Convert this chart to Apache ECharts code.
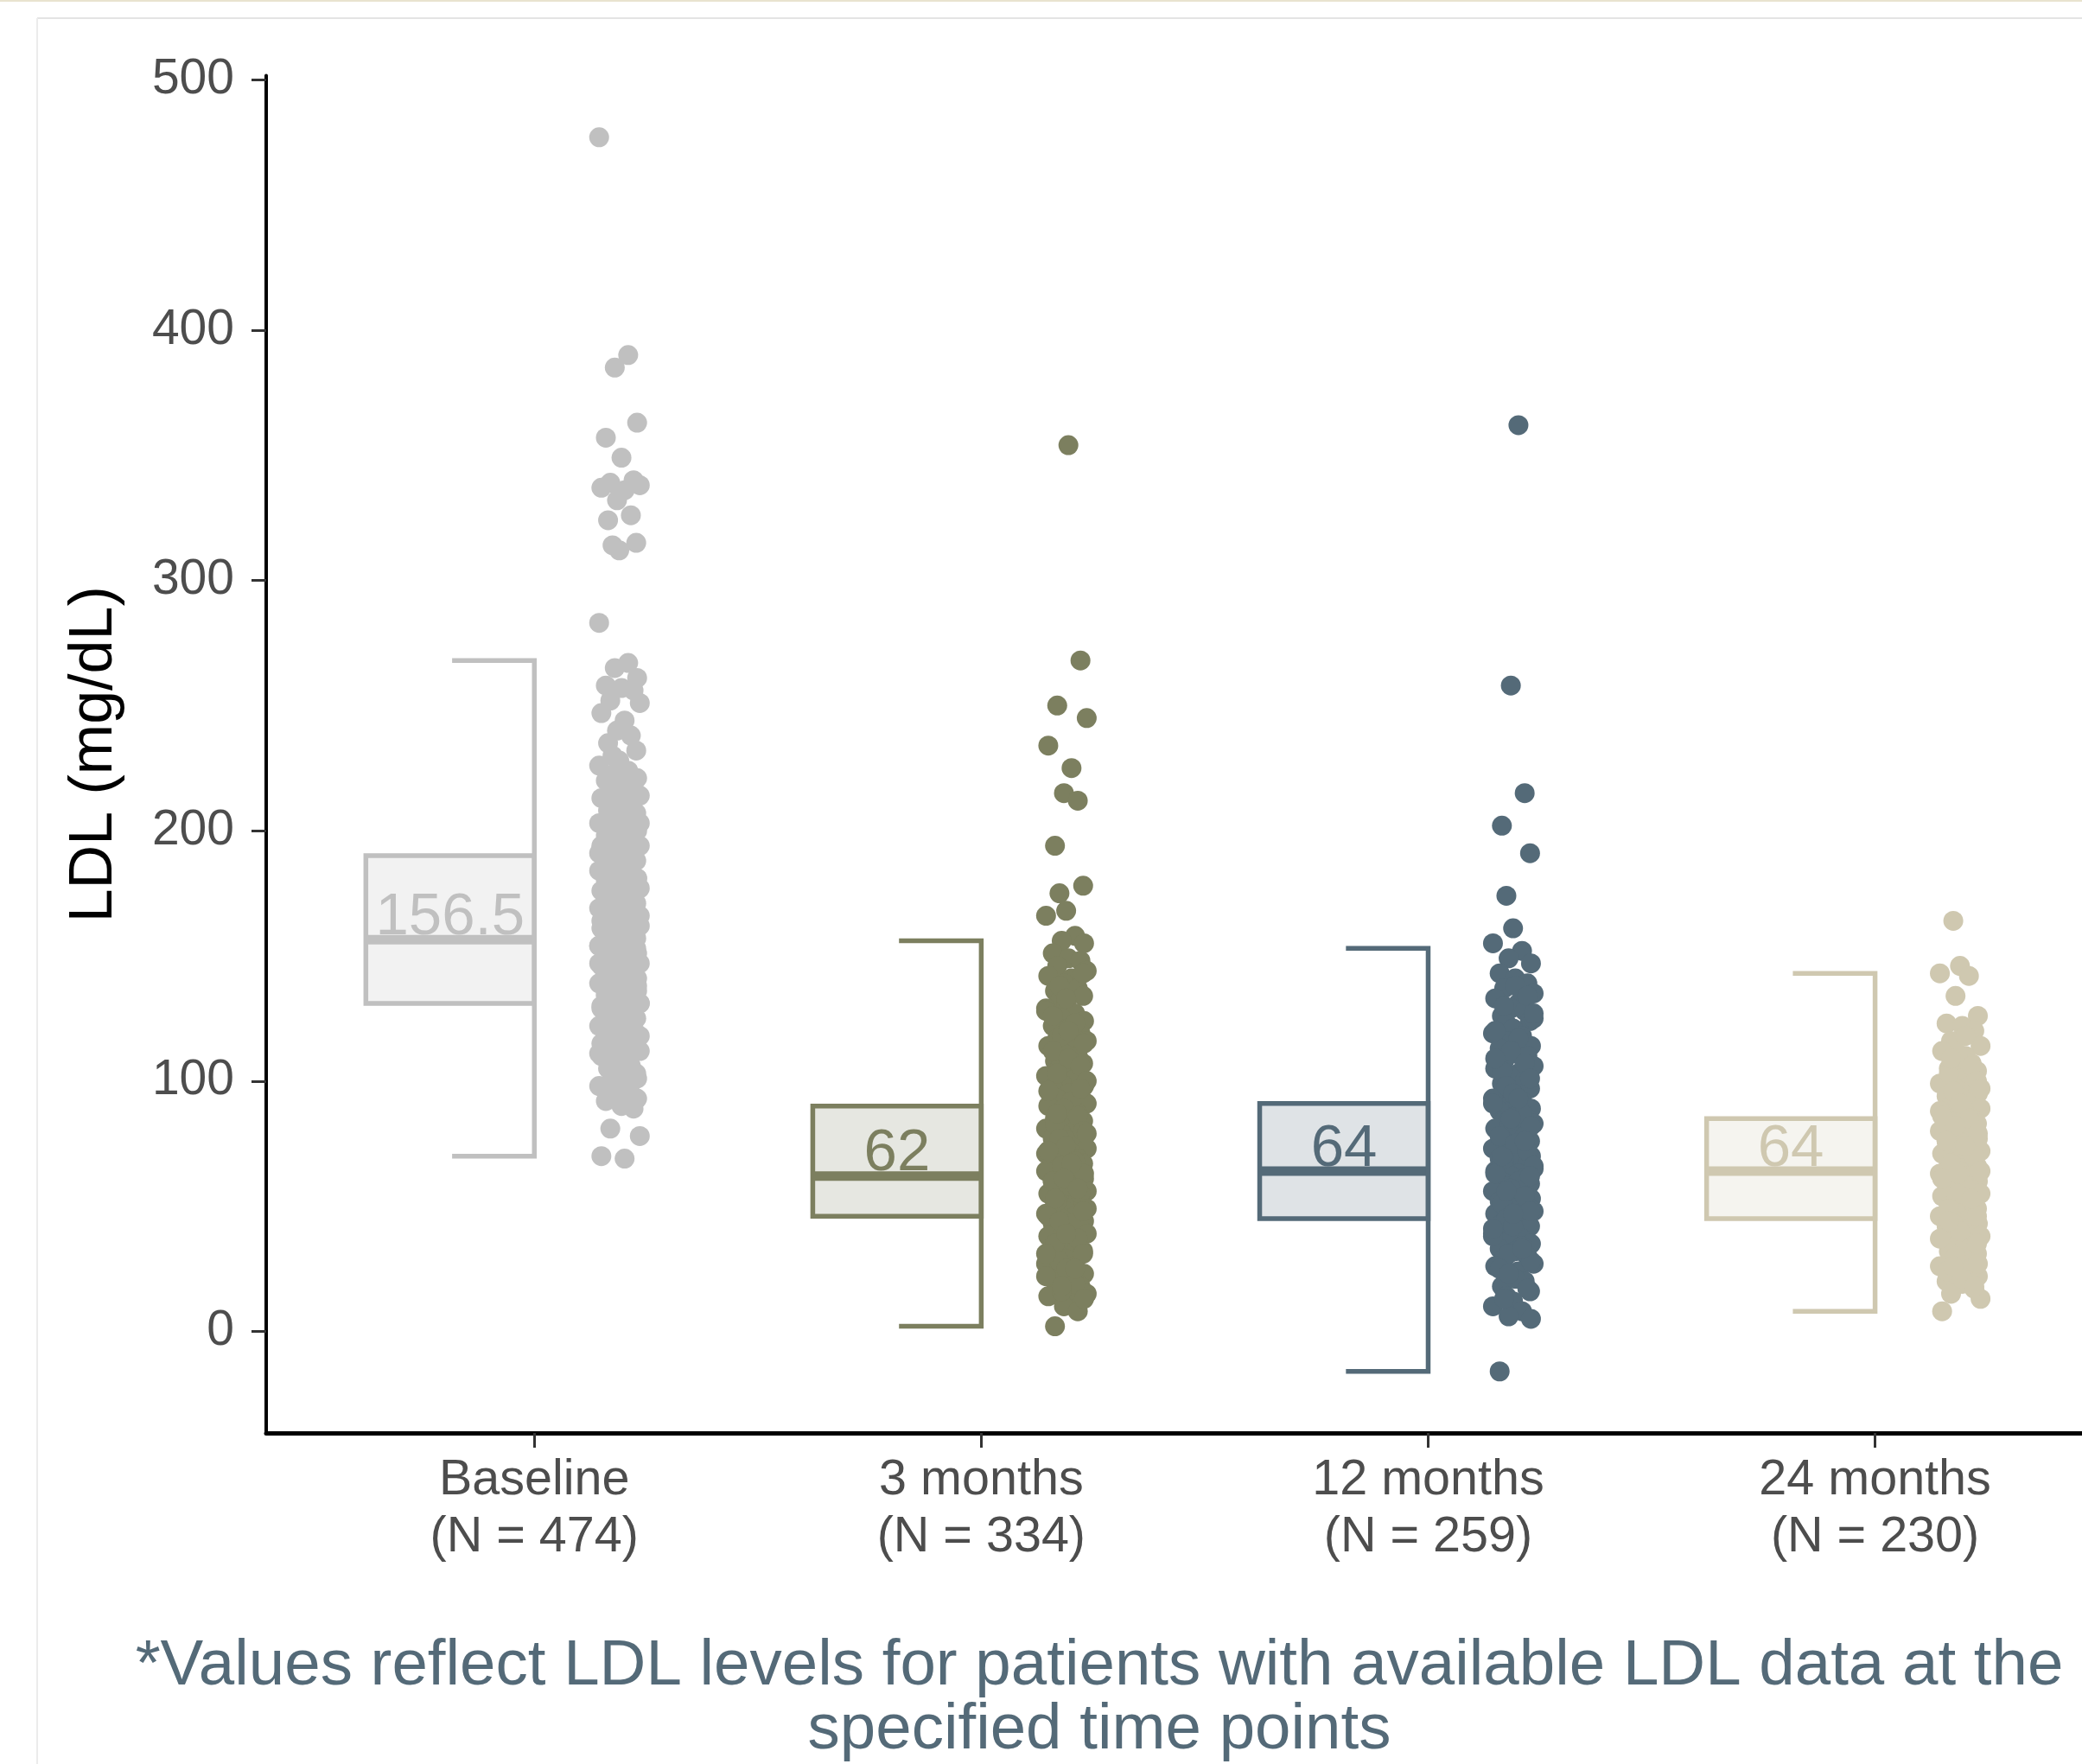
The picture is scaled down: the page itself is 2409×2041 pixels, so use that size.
<!DOCTYPE html>
<html><head><meta charset="utf-8">
<script src="https://cdn.jsdelivr.net/npm/echarts@6/dist/echarts.min.js"></script>
<style>html,body{margin:0;padding:0;background:#fff}#c{width:2409px;height:2041px}</style>
</head><body><div id="c"></div>
<script>
// ---------- DATA ----------
const categories = ['Baseline', '3 months', '12 months', '24 months'];
const groupN = [474, 334, 259, 230];
const yTickValues = [0, 100, 200, 300, 400, 500];
const xTickValues = [1, 2, 3, 4];
const medianLabels = ['156.5', '62', '64', '64'];
// [whisker low, Q1, median, Q3, whisker high]
const boxBaseline = [70, 131, 156.5, 190, 268];
const box3m = [2, 46, 62, 90, 156];
const box12m = [-16, 45, 64, 91, 153];
const box24m = [8, 45, 64, 85, 143];

const ptsBaseline = [477, 390, 385, 363, 357, 349, 340, 339, 338, 337, 336, 332, 326, 324, 315, 314, 312, 283, 267, 265, 261, 258, 257, 256, 252, 251, 247, 244, 240, 238, 235, 232, 230, 228,
  226, 224, 223, 221, 220, 219, 217, 216, 214, 213, 212, 211, 209, 208, 207, 206, 204, 203, 202, 201, 200, 198, 197, 197, 195, 194, 193, 192, 190, 189, 188, 188, 186, 185, 184, 183, 182, 181, 180, 180, 179, 178, 177, 176, 175, 174, 173, 172, 171, 170, 170, 169, 168, 167, 166, 165, 164, 163, 163, 162, 161, 160, 159, 158, 158, 157, 156, 155, 154, 153, 152, 151, 150, 150, 149, 148, 147, 146, 145, 144, 143, 142, 141, 140, 140, 139, 138, 137, 136, 135, 134, 133, 132, 131, 130, 129, 128, 127, 126, 125, 124, 123, 122, 121, 120, 118, 117, 116, 114, 113, 112, 110, 109, 108, 106, 105, 103, 102, 100, 98, 97, 95, 93, 92, 90, 89, 81, 78, 70, 69,
  218, 214, 211, 205, 199, 196, 191, 187, 185, 181, 178, 176, 172, 169, 166, 164, 161, 159, 157, 155, 153, 151, 149, 147, 145, 143, 141, 139, 137, 135, 133, 131, 129, 127, 125, 123, 121, 119, 116, 113, 111, 107, 104, 101, 96, 94, 91,
  209, 203, 194, 186, 182, 174, 171, 167, 162, 156, 154, 148, 144, 138, 134, 130, 126, 122, 118, 115, 110, 106, 99];

const pts3m = [354, 268, 250, 245, 234, 225, 215, 212, 194, 178, 175, 168, 166, 158, 156, 155, 151, 149, 148, 146, 144, 142, 141, 139, 137, 136, 134, 132, 131, 129, 127, 125, 124, 122, 121, 119, 117, 116, 114, 113, 111, 110, 108, 107, 105, 104, 102, 101, 99, 98, 97, 95, 94, 93, 91, 90, 89, 88, 87, 85, 84, 83, 82, 81, 80, 79, 78, 77, 76, 75, 74, 73, 72, 71, 70, 69, 68, 67, 66, 65, 64, 63, 62, 61, 60, 59, 58, 57, 56, 55, 54, 53, 52, 51, 50, 49, 48, 47, 46, 45, 44, 43, 42, 41, 40, 39, 38, 37, 36, 34, 33, 32, 30, 29, 27, 26, 24, 23, 21, 20, 18, 17, 15, 14, 12, 10, 8, 2,
  143, 138, 133, 128, 123, 118, 115, 112, 109, 106, 103, 100, 96, 92, 89, 86, 83, 80, 77, 74, 71, 68, 66, 63, 60, 58, 55, 52, 49, 46, 43, 40, 37, 35, 31, 28, 25, 22, 19, 16, 13,
  126, 120, 97, 87, 79, 72, 67, 61, 57, 53, 48, 44, 39, 31, 25, 18];

const pts12m = [362, 258, 215, 202, 191, 174, 161, 155, 152, 149, 147, 143, 141, 139, 137, 135, 133, 131, 129, 128, 126, 124, 123, 121, 119, 118, 116, 114, 113, 111, 110, 108, 106, 105, 103, 102, 100, 99, 97, 96, 94, 93, 92, 90, 89, 88, 86, 85, 84, 83, 81, 80, 79, 78, 77, 76, 75, 74, 73, 72, 71, 70, 69, 68, 67, 66, 65, 64, 63, 62, 61, 60, 59, 58, 57, 56, 55, 54, 53, 52, 51, 50, 49, 48, 47, 46, 45, 44, 43, 42, 41, 40, 39, 37, 36, 35, 33, 32, 30, 29, 27, 26, 24, 22, 20, 18, 16, 14, 12, 10, 8, 6, 5, -16,
  138, 134, 130, 125, 120, 117, 112, 107, 104, 101, 98, 95, 91, 87, 84, 82, 78, 75, 72, 69, 66, 63, 60, 57, 54, 51, 48, 45, 42, 38, 34, 31, 28, 25, 21, 17, 13,
  127, 109, 93, 85, 76, 70, 62, 56, 47, 41, 33, 23];

const pts24m = [164, 146, 143, 142, 134, 126, 123, 122, 120, 116, 114, 112, 110, 108, 107, 105, 104, 102, 101, 99, 98, 97, 95, 94, 93, 92, 90, 89, 88, 87, 86, 85, 84, 83, 82, 81, 80, 79, 78, 77, 76, 75, 74, 73, 72, 71, 70, 69, 68, 67, 66, 65, 64, 63, 62, 61, 60, 59, 58, 57, 56, 55, 54, 53, 52, 51, 50, 49, 48, 47, 46, 45, 44, 43, 42, 41, 40, 39, 38, 37, 36, 35, 34, 32, 31, 29, 28, 26, 25, 23, 22, 20, 19, 17, 15, 13, 8,
  118, 111, 106, 103, 100, 96, 91, 88, 85, 82, 79, 76, 73, 70, 67, 64, 61, 58, 55, 52, 49, 46, 43, 40, 37, 33, 30, 27, 24, 21, 18,
  109, 97, 86, 74, 63, 53, 44, 35, 26];

// ---------- STYLE / LAYOUT ----------
const strokeColors = ['#c0c0c0', '#7c7f5f', '#546a78', '#cfc8b0'];
const fillColors = ['#f2f2f2', '#e6e7e1', '#dfe3e6', '#f5f4ef'];
const BOX_W = 0.377, CAP_W = 0.184, PT_OFF = 0.19;
const JIT = [-0.045, 0.02, -0.01, 0.04, -0.03, 0.005, 0.032, -0.02, 0.046, -0.04, 0.012, -0.005, 0.026, -0.025, 0.038, -0.015, 0.0];
const FONT = '"Liberation Sans", Arial, Helvetica, sans-serif';

const boxes = [boxBaseline, box3m, box12m, box24m];
const ptsAll = [ptsBaseline, pts3m, pts12m, pts24m];

function renderBox(params, api) {
  const i = params.dataIndex;
  const pos = api.value(0), lo = api.value(1), q1 = api.value(2), med = api.value(3), q3 = api.value(4), hi = api.value(5);
  const X = v => api.coord([v, 0])[0];
  const Y = v => api.coord([pos, v])[1];
  const xL = X(pos - BOX_W), xR = X(pos), xC = X(pos - CAP_W);
  const sc = strokeColors[i], fc = fillColors[i];
  return {
    type: 'group',
    children: [
      { type: 'rect', shape: { x: xL, y: Y(q3), width: xR - xL, height: Y(q1) - Y(q3) }, style: { fill: fc, stroke: sc, lineWidth: 5.5 } },
      { type: 'text', style: { text: medianLabels[i], x: (xL + xR) / 2, y: Y(med) + 9, align: 'center', verticalAlign: 'bottom', fill: sc, font: '69px ' + FONT } },
      { type: 'line', shape: { x1: xL, y1: Y(med), x2: xR, y2: Y(med) }, style: { stroke: sc, lineWidth: 11 } },
      { type: 'polyline', shape: { points: [[xC, Y(hi)], [xR, Y(hi)], [xR, Y(lo)], [xC, Y(lo)]] }, style: { stroke: sc, lineWidth: 5.5, fill: null } }
    ]
  };
}

const series = [{
  type: 'custom',
  renderItem: renderBox,
  data: boxes.map((b, i) => [i + 1].concat(b)),
  encode: { x: 0, y: [1, 2, 3, 4, 5] },
  z: 2,
  silent: true
}];
ptsAll.forEach((pts, i) => {
  series.push({
    type: 'scatter',
    symbol: 'circle',
    symbolSize: 23,
    itemStyle: { color: strokeColors[i], opacity: 1 },
    data: pts.map((v, k) => [i + 1 + PT_OFF + JIT[(k + 5 * i) % JIT.length], v]),
    z: 3,
    silent: true
  });
});

const chart = echarts.init(document.getElementById('c'), null, { renderer: 'canvas' });
chart.setOption({
  animation: false,
  backgroundColor: '#ffffff',
  grid: { left: 308, right: 0, top: 87.6, bottom: 383, containLabel: false },
  xAxis: {
    type: 'value', min: 0.4, max: 4.463,
    splitLine: { show: false },
    axisLine: { show: true, onZero: false, lineStyle: { color: '#000', width: 5 } },
    axisTick: { show: true, customValues: xTickValues, length: 17, lineStyle: { color: '#333', width: 3 } },
    axisLabel: {
      customValues: xTickValues, margin: 22, color: '#4d4d4d', fontSize: 57.5, lineHeight: 66, fontFamily: FONT,
      formatter: v => { const k = Math.round(v) - 1; return categories[k] + '\n(N = ' + groupN[k] + ')'; }
    }
  },
  yAxis: {
    type: 'value', min: -40.6, max: 501.6,
    splitLine: { show: false },
    axisLine: { show: true, onZero: false, lineStyle: { color: '#000', width: 4 } },
    axisTick: { show: true, customValues: yTickValues, length: 17, lineStyle: { color: '#333', width: 3 } },
    axisLabel: { customValues: yTickValues, margin: 37, color: '#4d4d4d', fontSize: 57, fontFamily: FONT },
    name: 'LDL (mg/dL)', nameLocation: 'middle', nameRotate: 90, nameGap: 163,
    nameTextStyle: { color: '#000', fontSize: 70, fontFamily: FONT }
  },
  graphic: [
    { type: 'rect', shape: { x: 0, y: 0, width: 2409, height: 2 }, style: { fill: '#e9e3cf' }, silent: true },
    { type: 'line', shape: { x1: 43, y1: 21, x2: 2409, y2: 21 }, style: { stroke: '#e4e4e4', lineWidth: 2 }, silent: true },
    { type: 'line', shape: { x1: 43, y1: 21, x2: 43, y2: 2041 }, style: { stroke: '#ececec', lineWidth: 2 }, silent: true },
    { type: 'text', x: 1272, y: 1965, style: { text: '*Values reflect LDL levels for patients with available LDL data at the\nspecified time points', align: 'center', verticalAlign: 'middle', fill: '#546a78', font: '74.5px ' + FONT, lineHeight: 74 }, silent: true }
  ],
  series: series
});
</script></body></html>
